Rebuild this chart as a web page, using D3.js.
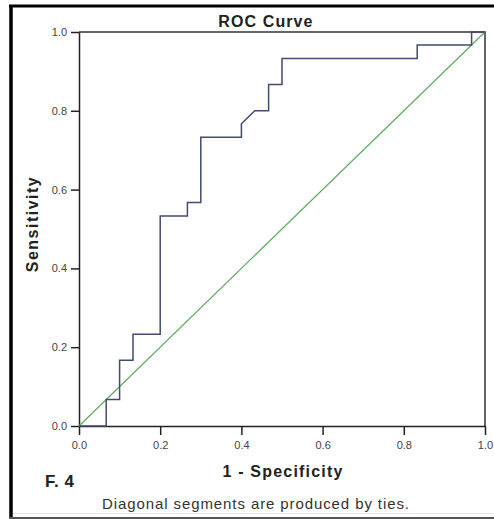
<!DOCTYPE html>
<html lang="en">
<head>
    <meta charset="UTF-8">
    <title>ROC Curve</title>
    <script src="https://d3js.org/d3.v7.min.js"></script>
    <style>
        body {
            margin: 0;
            background-color: #ffffff;
            font-family: "Liberation Sans", Arial, sans-serif;
        }
        svg {
            display: block;
        }
        .axis text {
            font-size: 11px;
            fill: #444;
        }
    </style>
</head>
<body>

<svg width="494" height="519"></svg>

<script>
    // ROC points (1 - specificity, sensitivity)
    const fpr = [0, 0.067, 0.067, 0.1, 0.1, 0.133, 0.133, 0.2, 0.2, 0.267, 0.267, 0.3, 0.3, 0.4, 0.4, 0.433, 0.467, 0.467, 0.5, 0.5, 0.833, 0.833, 0.967, 0.967, 1];
    const tpr = [0, 0, 0.067, 0.067, 0.167, 0.167, 0.233, 0.233, 0.533, 0.533, 0.567, 0.567, 0.733, 0.733, 0.767, 0.8, 0.8, 0.867, 0.867, 0.933, 0.933, 0.967, 0.967, 1, 1];
    const tickValues = [0, 0.2, 0.4, 0.6, 0.8, 1.0];

    const plot = {left: 79, right: 485, top: 32, bottom: 426};

    const svg = d3.select("svg");

    // outer frame
    svg.append("line").attr("x1", 9).attr("x2", 494).attr("y1", 6).attr("y2", 6)
        .attr("stroke", "#000").attr("stroke-width", 3);
    svg.append("line").attr("x1", 11).attr("x2", 11).attr("y1", 5).attr("y2", 519)
        .attr("stroke", "#000").attr("stroke-width", 3.5);
    svg.append("line").attr("x1", 13).attr("x2", 494).attr("y1", 513.5).attr("y2", 513.5)
        .attr("stroke", "#e4e4e4").attr("stroke-width", 1);
    svg.append("line").attr("x1", 9).attr("x2", 494).attr("y1", 518).attr("y2", 518)
        .attr("stroke", "#555").attr("stroke-width", 2);

    const xScale = d3.scaleLinear().domain([0, 1]).range([plot.left, plot.right]);
    const yScale = d3.scaleLinear().domain([0, 1]).range([plot.bottom, plot.top]);

    // plot box (top and right)
    svg.append("path")
        .attr("d", `M${xScale(0)},${yScale(1)}H${xScale(1)}V${yScale(0)}`)
        .attr("fill", "none")
        .attr("stroke", "#333")
        .attr("stroke-width", 1.5);

    // axes
    const xAxis = d3.axisBottom(xScale)
        .tickValues(tickValues)
        .tickFormat(d3.format(".1f"))
        .tickSize(9)
        .tickSizeOuter(0)
        .tickPadding(6);
    const yAxis = d3.axisLeft(yScale)
        .tickValues(tickValues)
        .tickFormat(d3.format(".1f"))
        .tickSize(8)
        .tickSizeOuter(0)
        .tickPadding(4);

    svg.append("g").attr("class", "axis")
        .attr("transform", `translate(0, ${plot.bottom})`)
        .call(xAxis);
    svg.append("g").attr("class", "axis")
        .attr("transform", `translate(${plot.left}, 0)`)
        .call(yAxis);

    svg.selectAll(".axis .domain").attr("stroke", "#222").attr("stroke-width", 1.5);
    svg.selectAll(".axis .tick line").attr("stroke", "#222").attr("stroke-width", 1.5);
    svg.selectAll(".axis text").attr("font-family", "Liberation Sans, Arial, sans-serif");

    // reference diagonal
    svg.append("line")
        .attr("x1", xScale(0)).attr("y1", yScale(0))
        .attr("x2", xScale(1)).attr("y2", yScale(1))
        .attr("stroke", "#5caa5c")
        .attr("stroke-width", 1.2);

    // ROC curve
    const points = fpr.map((d, i) => [d, tpr[i]]);
    const line = d3.line()
        .x(d => xScale(d[0]))
        .y(d => yScale(d[1]));

    svg.append("path")
        .datum(points)
        .attr("d", line)
        .attr("fill", "none")
        .attr("stroke", "#414a70")
        .attr("stroke-width", 1.5);

    // titles
    svg.append("text")
        .attr("x", 266).attr("y", 27)
        .attr("text-anchor", "middle")
        .attr("font-size", 16).attr("font-weight", "bold")
        .attr("letter-spacing", 1.1)
        .attr("fill", "#222")
        .text("ROC Curve");

    svg.append("text")
        .attr("x", 283).attr("y", 477)
        .attr("text-anchor", "middle")
        .attr("font-size", 16).attr("font-weight", "bold")
        .attr("letter-spacing", 1.2)
        .attr("fill", "#222")
        .text("1 - Specificity");

    svg.append("text")
        .attr("transform", "translate(38, 224) rotate(-90)")
        .attr("text-anchor", "middle")
        .attr("font-size", 16).attr("font-weight", "bold")
        .attr("letter-spacing", 1.5)
        .attr("fill", "#222")
        .text("Sensitivity");

    svg.append("text")
        .attr("x", 45).attr("y", 487)
        .attr("font-size", 17).attr("font-weight", "bold")
        .attr("letter-spacing", 0.5)
        .attr("fill", "#222")
        .text("F. 4");

    svg.append("text")
        .attr("x", 256).attr("y", 509)
        .attr("text-anchor", "middle")
        .attr("font-size", 15)
        .attr("letter-spacing", 0.9)
        .attr("fill", "#333")
        .text("Diagonal segments are produced by ties.");
</script>

</body>
</html>
